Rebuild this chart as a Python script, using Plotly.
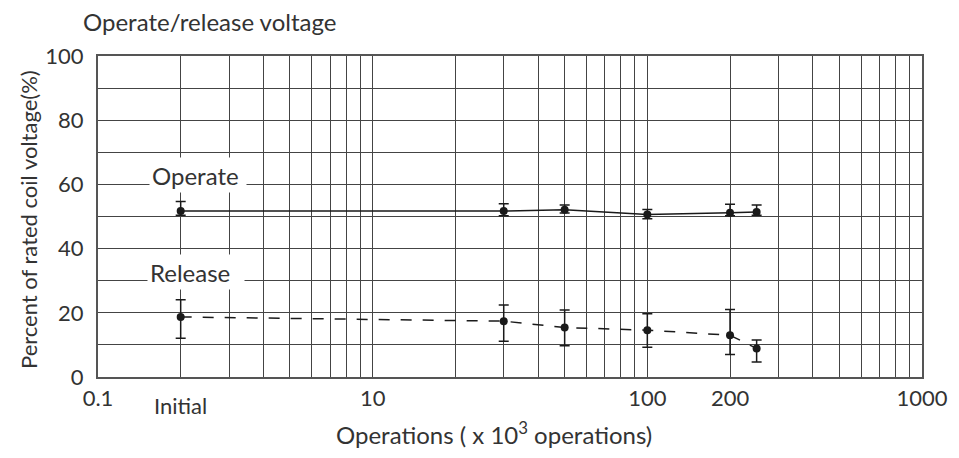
import plotly.graph_objects as go
import math

# ---- data ----
ops_x = [2, 30, 50, 100, 200, 250]          # x 10^3 operations (2 = "Initial")
operate_y = [51.7, 51.7, 52.1, 50.6, 51.2, 51.4]
operate_hi = [54.7, 54.0, 53.6, 52.2, 53.8, 53.6]
operate_lo = [50.4, 50.2, 51.1, 49.3, 50.2, 50.4]
release_y = [18.7, 17.4, 15.4, 14.6, 13.0, 8.9]
release_hi = [24.1, 22.4, 20.9, 19.7, 21.0, 11.5]
release_lo = [12.1, 11.1, 9.7, 9.3, 7.0, 4.7]

x_grid = [k * 10 ** d for d in range(0, 3) for k in range(1, 10)] + [1000]
x_labels = {1: "0.1", 10: "10", 100: "100", 200: "200", 1000: "1000"}
y_grid = list(range(0, 101, 10))
y_labels = {v: str(v) for v in range(0, 101, 20)}

FONT = "Lato, 'Noto Sans', sans-serif"
TXT = "#333333"
INK = "#1a1a1a"
GRID = "#444444"

# plot-area pixel box
L, R, T, B = 98, 922, 56, 377
W, H = 959, 458

def px(xp):
    return (xp - L) / (R - L)

def py(yp):
    return (B - yp) / (B - T)

def err(y, hi, lo):
    return dict(type="data", symmetric=False,
                array=[h - v for h, v in zip(hi, y)],
                arrayminus=[v - l for v, l in zip(y, lo)],
                color=INK, thickness=1.5, width=5)

fig = go.Figure()
fig.add_trace(go.Scatter(
    x=ops_x, y=operate_y, mode="lines+markers",
    line=dict(color=INK, width=1.5),
    marker=dict(color=INK, size=8),
    error_y=err(operate_y, operate_hi, operate_lo),
    hoverinfo="skip", showlegend=False))
fig.add_trace(go.Scatter(
    x=ops_x, y=release_y, mode="lines+markers",
    line=dict(color=INK, width=1.5, dash="11px,11px"),
    marker=dict(color=INK, size=8),
    error_y=err(release_y, release_hi, release_lo),
    hoverinfo="skip", showlegend=False))

fig.update_layout(
    width=W, height=H,
    margin=dict(l=L, r=W - R, t=T, b=H - B, autoexpand=False),
    paper_bgcolor="white", plot_bgcolor="white",
    font=dict(family=FONT, size=22, color=TXT),
    xaxis=dict(type="log", range=[0, 3], automargin=False,
               tickvals=x_grid,
               ticktext=[x_labels.get(v, "") for v in x_grid],
               showgrid=True, gridcolor=GRID, gridwidth=1,
               showline=True, linecolor="#555555", linewidth=2, mirror=True,
               ticks="", ticklabelstandoff=1, zeroline=False),
    yaxis=dict(range=[0, 100], automargin=False,
               tickvals=y_grid,
               ticktext=[y_labels.get(v, "") for v in y_grid],
               showgrid=True, gridcolor=GRID, gridwidth=1,
               showline=True, linecolor="#555555", linewidth=2, mirror=True,
               ticks="", ticklabelstandoff=8, zeroline=False),
)

annos = [
    dict(text="Operate/release voltage", x=px(81), y=py(21),
         xref="paper", yref="paper", xanchor="left", yanchor="middle",
         showarrow=False, font=dict(size=24)),
    dict(text="Operations ( x 10<sup>3</sup> operations)", x=px(494), y=py(433),
         xref="paper", yref="paper", xanchor="center", yanchor="middle",
         showarrow=False, font=dict(size=24)),
    dict(text="Percent of rated coil voltage(%)", x=px(28), y=py(220),
         xref="paper", yref="paper", xanchor="center", yanchor="middle",
         textangle=-90, showarrow=False),
    dict(text="Initial", x=math.log10(2), y=py(405),
         xref="x", yref="paper", xanchor="center", yanchor="middle",
         showarrow=False),
    dict(text="Operate", x=px(198), y=62.8, xref="paper", yref="y",
         xanchor="center", yanchor="middle", showarrow=False,
         font=dict(size=24),
         bgcolor="white", width=92, height=30, align="left", borderpad=2),
    dict(text="Release", x=px(196), y=32.7, xref="paper", yref="y",
         xanchor="center", yanchor="middle", showarrow=False,
         font=dict(size=24),
         bgcolor="white", width=92, height=30, align="left", borderpad=2),
]
fig.update_layout(annotations=annos)

fig.write_html("out.html",
               config={"displayModeBar": False, "staticPlot": True},
               post_script="document.body.style.margin='0';"
                           "document.body.style.overflow='hidden';")
